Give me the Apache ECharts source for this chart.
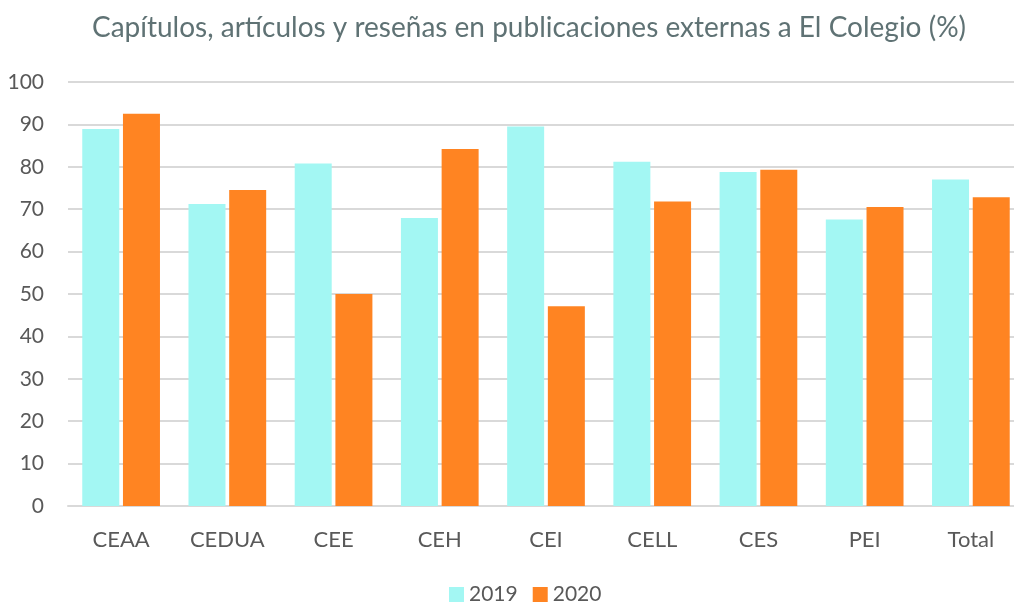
<!DOCTYPE html>
<html><head><meta charset="utf-8">
<script src="https://cdn.jsdelivr.net/npm/echarts@6/dist/echarts.min.js"></script>
<style>html,body{margin:0;padding:0;background:#fff}#c{width:1014px;height:603px}</style>
</head><body><div id="c"></div>
<script>
const categories = ['CEAA','CEDUA','CEE','CEH','CEI','CELL','CES','PEI','Total'];
const values2019 = [88.9, 71.2, 80.8, 67.9, 89.5, 81.2, 78.8, 67.6, 77.0];
const values2020 = [92.5, 74.5, 50.0, 84.2, 47.1, 71.8, 79.3, 70.5, 72.8];
const yTicks = [0,10,20,30,40,50,60,70,80,90,100];

const font = 'Lato, "Open Sans", sans-serif';
const chart = echarts.init(document.getElementById('c'), null, {renderer:'canvas'});
chart.setOption({
  animation:false,
  title:{
    text:'Capítulos, artículos y reseñas en publicaciones externas a El Colegio (%)',
    left:524, top:9, textAlign:'center',
    textStyle:{color:'#5f7274', fontSize:28, fontWeight:'normal', fontFamily:font}
  },
  legend:{
    bottom:-7, left:444, itemWidth:15, itemHeight:15, itemGap:15,
    icon:'rect',
    textStyle:{color:'#595959', fontSize:21, fontFamily:font},
    data:['2019','2020']
  },
  grid:{left:68, width:956, top:82, height:424, containLabel:false, outerBoundsMode:'none'},
  xAxis:{
    type:'category', data:categories,
    axisLine:{lineStyle:{color:'#d9d9d9', width:2}},
    axisTick:{show:false},
    axisLabel:{color:'#595959', fontSize:22, fontFamily:font, margin:23}
  },
  yAxis:{
    type:'value', min:yTicks[0], max:yTicks[yTicks.length-1], interval:10,
    axisLine:{show:false}, axisTick:{show:false},
    splitLine:{lineStyle:{color:'#d9d9d9', width:2}},
    axisLabel:{color:'#595959', fontSize:21, fontFamily:font, margin:24}
  },
  series:[
    {name:'2019', type:'bar', data:values2019, barWidth:37, barGap:'10%',
     itemStyle:{color:'#a3f7f3'}},
    {name:'2020', type:'bar', data:values2020, barWidth:37, barGap:'10%',
     itemStyle:{color:'#ff8422'}}
  ]
});
</script></body></html>
